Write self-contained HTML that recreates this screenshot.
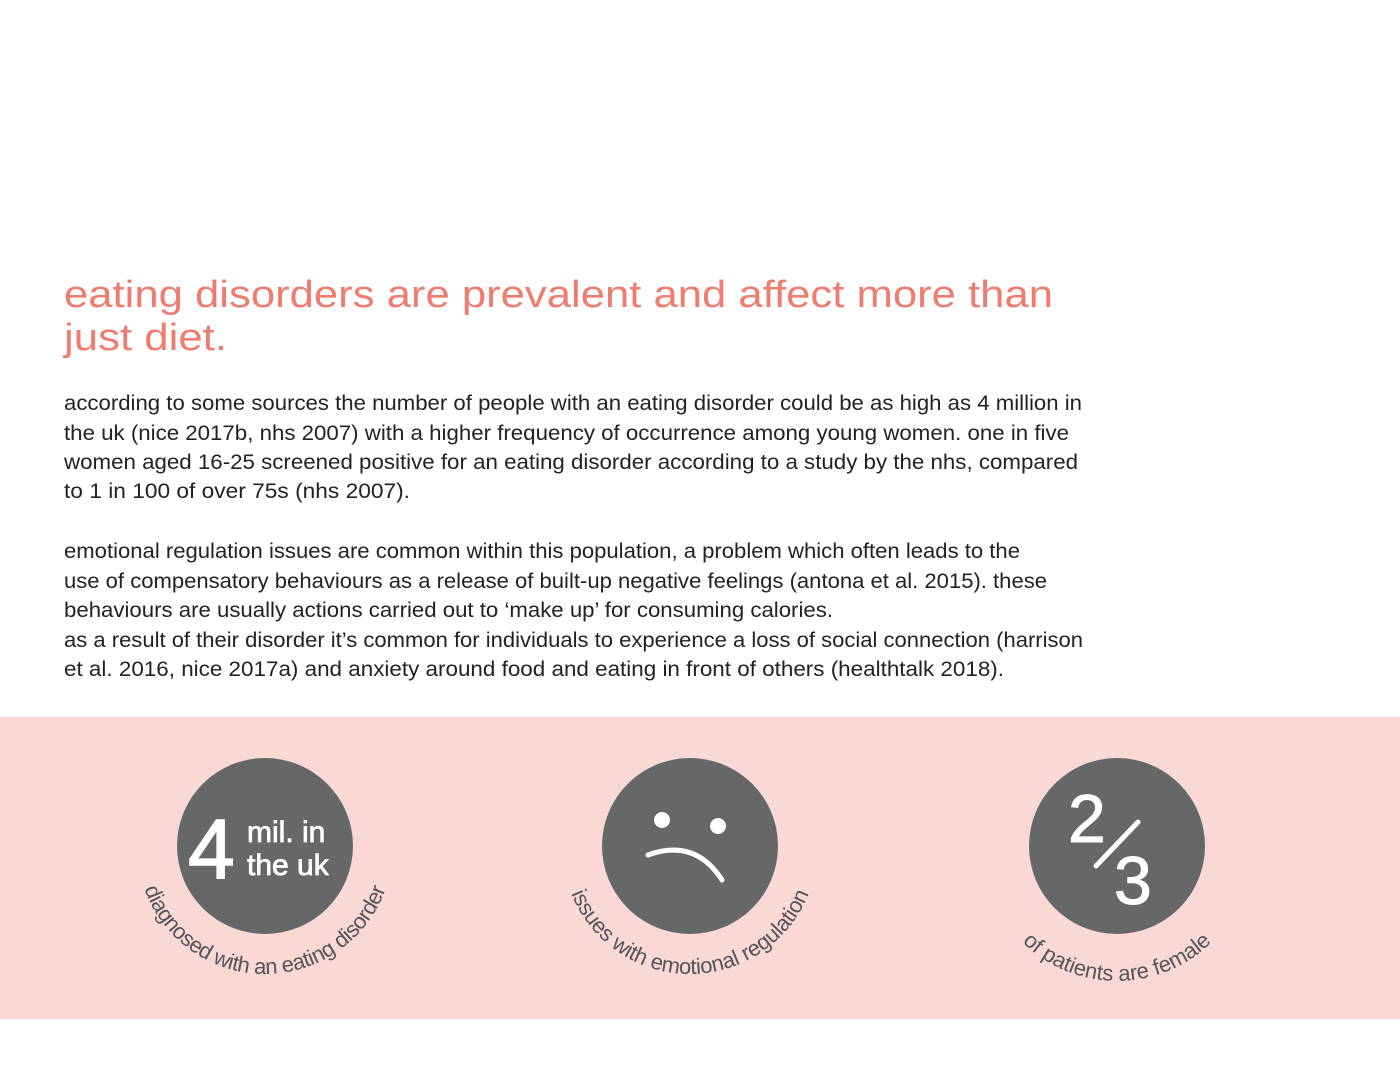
<!DOCTYPE html>
<html><head><meta charset="utf-8"><style>
html,body{margin:0;padding:0;background:#fff}
svg{display:block}
text{font-family:"Liberation Sans",sans-serif}
</style></head><body>
<svg width="1400" height="1082" viewBox="0 0 1400 1082" xmlns="http://www.w3.org/2000/svg">
<rect width="1400" height="1082" fill="#fff"/>
<g fill="#f07c70" font-size="38">
<text x="64" y="307" textLength="989" lengthAdjust="spacingAndGlyphs">eating disorders are prevalent and affect more than</text>
<text x="64" y="350" textLength="163" lengthAdjust="spacingAndGlyphs">just diet.</text>
</g>
<g fill="#222" font-size="21">
<text x="64" y="410" textLength="1018" lengthAdjust="spacingAndGlyphs">according to some sources the number of people with an eating disorder could be as high as 4 million in</text>
<text x="64" y="440" textLength="1005" lengthAdjust="spacingAndGlyphs">the uk (nice 2017b, nhs 2007) with a higher frequency of occurrence among young women. one in five</text>
<text x="64" y="469" textLength="1014" lengthAdjust="spacingAndGlyphs">women aged 16-25 screened positive for an eating disorder according to a study by the nhs, compared</text>
<text x="64" y="498" textLength="346" lengthAdjust="spacingAndGlyphs">to 1 in 100 of over 75s (nhs 2007).</text>
<text x="64" y="558" textLength="956" lengthAdjust="spacingAndGlyphs">emotional regulation issues are common within this population, a problem which often leads to the</text>
<text x="64" y="588" textLength="983" lengthAdjust="spacingAndGlyphs">use of compensatory behaviours as a release of built-up negative feelings (antona et al. 2015). these</text>
<text x="64" y="617" textLength="769" lengthAdjust="spacingAndGlyphs">behaviours are usually actions carried out to ‘make up’ for consuming calories.</text>
<text x="64" y="647" textLength="1019" lengthAdjust="spacingAndGlyphs">as a result of their disorder it’s common for individuals to experience a loss of social connection (harrison</text>
<text x="64" y="676" textLength="940" lengthAdjust="spacingAndGlyphs">et al. 2016, nice 2017a) and anxiety around food and eating in front of others (healthtalk 2018).</text>
</g>
<rect x="0" y="717" width="1400" height="302" fill="#fad9d5"/>
<defs>
<path id="a1" d="M137,846 A128,128 0 0 0 393,846"/>
<path id="a2" d="M562,846 A128,128 0 0 0 818,846"/>
<path id="a3" d="M982,846 A135,135 0 0 0 1252,846"/>
</defs>
<g fill="#666867">
<circle cx="265" cy="846" r="88"/>
<circle cx="690" cy="846" r="88"/>
<circle cx="1117" cy="846" r="88"/>
</g>
<g fill="#fff" stroke="#fff">
<text x="188" y="878" font-size="84" stroke-width="1.5">4</text>
<text x="247" y="842" font-size="30" stroke-width="0.8">mil. in</text>
<text x="247" y="875" font-size="30" stroke-width="0.8">the uk</text>
<text x="1068" y="842" font-size="68" stroke-width="1">2</text>
<text x="1114" y="904" font-size="68" stroke-width="1">3</text>
</g>
<g fill="#fff">
<circle cx="662" cy="820" r="8"/>
<circle cx="718" cy="826" r="8"/>
</g>
<path d="M648,855 Q695,838 722,880" stroke="#fff" stroke-width="5" fill="none" stroke-linecap="round"/>
<line x1="1096" y1="866" x2="1138" y2="822" stroke="#fff" stroke-width="5" stroke-linecap="round"/>
<g fill="#555" font-size="22">
<text><textPath href="#a1" startOffset="50%" text-anchor="middle" textLength="315" lengthAdjust="spacing">diagnosed with an eating disorder</textPath></text>
<text><textPath href="#a2" startOffset="50%" text-anchor="middle" textLength="305" lengthAdjust="spacing">issues with emotional regulation</textPath></text>
<text><textPath href="#a3" startOffset="50%" text-anchor="middle" textLength="210" lengthAdjust="spacing">of patients are female</textPath></text>
</g>
</svg>
</body></html>
